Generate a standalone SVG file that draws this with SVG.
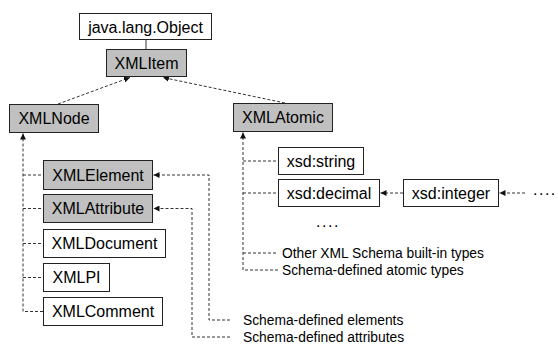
<svg xmlns="http://www.w3.org/2000/svg" width="558" height="347" viewBox="0 0 558 347">
<style>
.box{fill:#fff;stroke:#222;stroke-width:1}
.g{fill:#c0c0c0}
.t{font-family:"Liberation Sans",Arial,sans-serif;font-size:16px;fill:#000;text-anchor:middle;dominant-baseline:central}
.l{font-family:"Liberation Sans",Arial,sans-serif;font-size:13.8px;fill:#000;dominant-baseline:central}
.d{fill:none;stroke:#333;stroke-width:1;stroke-dasharray:3,2}
.a{marker-end:url(#arr)}
</style>
<defs>
<marker id="arr" markerUnits="userSpaceOnUse" markerWidth="7" markerHeight="6" refX="6" refY="3" orient="auto">
<path d="M0,0 L6,3 L0,6 z" fill="#111"/>
</marker>
</defs>
<rect width="558" height="347" fill="#fff"/>
<g id="connectors">
<line x1="146" y1="40" x2="146" y2="49" stroke="#333" stroke-width="1"/>
<line class="d a" x1="58" y1="104" x2="130" y2="77.5"/>
<line class="d a" x1="285" y1="103" x2="163" y2="77.5"/>
<path class="d a" d="M43,311.5 H23 V133.5"/>
<path class="d" d="M23,175 H43 M23,208.5 H43 M23,243.5 H43 M23,277.5 H43"/>
<path class="d a" d="M278,270 H243 V132.5"/>
<path class="d" d="M243,161 H278 M243,193 H278 M243,253 H278"/>
<line class="d a" x1="403" y1="193" x2="380.5" y2="193"/>
<line class="d a" x1="525" y1="193" x2="499.5" y2="193"/>
<path class="d a" d="M230,320 H209 V175 H153.5"/>
<path class="d a" d="M230,337 H192 V208.5 H153.5"/>
</g>
<g id="java-lang-Object"><rect class="box" x="79.5" y="13.5" width="132" height="26"/><text class="t" x="145.5" y="27">java.lang.Object</text></g>
<g id="XMLItem"><rect class="box g" x="106.5" y="49.5" width="80" height="27"/><text class="t" x="146.5" y="63">XMLItem</text></g>
<g id="XMLNode"><rect class="box g" x="9.5" y="104.5" width="89" height="28"/><text class="t" x="54" y="118.5">XMLNode</text></g>
<g id="XMLAtomic"><rect class="box g" x="233.5" y="103.5" width="99" height="28"/><text class="t" x="283" y="117.5">XMLAtomic</text></g>
<g id="xsd-string"><rect class="box" x="278.5" y="147.5" width="85" height="27"/><text class="t" x="321" y="161">xsd:string</text></g>
<g id="xsd-decimal"><rect class="box" x="278.5" y="179.5" width="101" height="27"/><text class="t" x="329" y="193">xsd:decimal</text></g>
<g id="xsd-integer"><rect class="box" x="403.5" y="179.5" width="95" height="27"/><text class="t" x="451" y="193">xsd:integer</text></g>
<g id="XMLElement"><rect class="box g" x="43.5" y="160.5" width="109" height="29"/><text class="t" x="98" y="175">XMLElement</text></g>
<g id="XMLAttribute"><rect class="box g" x="43.5" y="194.5" width="109" height="28"/><text class="t" x="98" y="208.5">XMLAttribute</text></g>
<g id="XMLDocument"><rect class="box" x="43.5" y="229.5" width="122" height="28"/><text class="t" x="104.5" y="243.5">XMLDocument</text></g>
<g id="XMLPI"><rect class="box" x="43.5" y="263.5" width="66" height="28"/><text class="t" x="76.5" y="277.5">XMLPI</text></g>
<g id="XMLComment"><rect class="box" x="43.5" y="297.5" width="119" height="28"/><text class="t" x="103" y="311.5">XMLComment</text></g>
<g id="labels">
<text class="t" x="328" y="221" style="letter-spacing:1.5px">....</text>
<text class="l" x="533" y="189" style="font-size:16px;letter-spacing:1.5px">....</text>
<text class="l" x="282" y="253">Other XML Schema built-in types</text>
<text class="l" x="282" y="270">Schema-defined atomic types</text>
<text class="l" x="243" y="320">Schema-defined elements</text>
<text class="l" x="243" y="337">Schema-defined attributes</text>
</g>
</svg>
